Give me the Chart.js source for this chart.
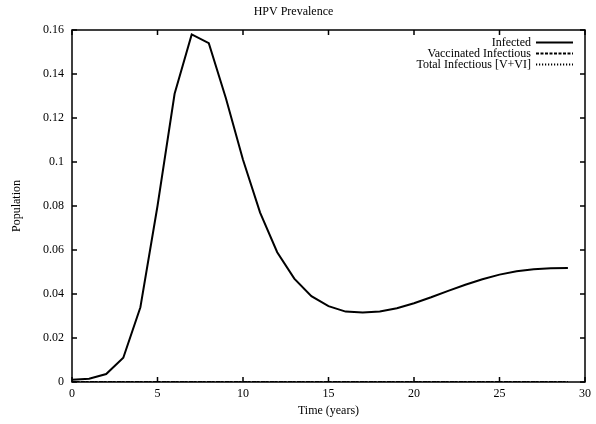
<!DOCTYPE html>
<html>
<head>
<meta charset="utf-8">
<script src="https://cdn.jsdelivr.net/npm/chart.js@4"></script>
<style>
  html, body { margin: 0; padding: 0; background: #fff; }
  #wrap { width: 596px; height: 424px; }
</style>
</head>
<body>
<div id="wrap"><canvas id="hpvChart" width="596" height="424"></canvas></div>
<script>
// time in years
const years = [0,1,2,3,4,5,6,7,8,9,10,11,12,13,14,15,16,17,18,19,20,21,22,23,24,25,26,27,28,29];
const infected = [0.001,0.0015,0.0036,0.011,0.034,0.080,0.131,0.158,0.154,0.129,0.101,0.077,0.059,0.047,0.039,0.0345,0.032,0.0316,0.032,0.0335,0.0358,0.0385,0.0414,0.0442,0.0467,0.0488,0.0503,0.0513,0.0517,0.0518];
const vaccinatedInfectious = years.map(() => 0);
const totalInfectious = years.map(() => 0);
const xTicks = [0, 5, 10, 15, 20, 25, 30];
const yTicks = [0, 0.02, 0.04, 0.06, 0.08, 0.1, 0.12, 0.14, 0.16];

const FONT = '"Liberation Serif", "DejaVu Serif", serif';

function toPoints(ys) {
    return years.map((x, i) => ({x: x, y: ys[i]}));
}

const seriesInfo = [
    {label: 'Infected', data: infected, dash: []},
    {label: 'Vaccinated Infectious', data: vaccinatedInfectious, dash: [3, 1.5]},
    {label: 'Total Infectious [V+VI]', data: totalInfectious, dash: [1.2, 1.8]}
];

// gnuplot style frame, inward ticks on all sides and key at top right
const framePlugin = {
    id: 'frame',
    afterDatasetsDraw(chart) {
        const ctx = chart.ctx;
        const a = chart.chartArea;
        const xs = chart.scales.x, ys = chart.scales.y;
        ctx.save();
        ctx.strokeStyle = '#000';
        ctx.lineWidth = 1.5;
        ctx.setLineDash([]);
        ctx.beginPath();
        xTicks.forEach(v => {
            const px = xs.getPixelForValue(v);
            ctx.moveTo(px, a.bottom); ctx.lineTo(px, a.bottom - 5);
            ctx.moveTo(px, a.top); ctx.lineTo(px, a.top + 5);
        });
        yTicks.forEach(v => {
            const py = ys.getPixelForValue(v);
            ctx.moveTo(a.left, py); ctx.lineTo(a.left + 5, py);
            ctx.moveTo(a.right, py); ctx.lineTo(a.right - 5, py);
        });
        ctx.stroke();
        ctx.strokeRect(a.left, a.top, a.right - a.left, a.bottom - a.top);

        // key
        ctx.font = '12px ' + FONT;
        ctx.fillStyle = '#000';
        ctx.textAlign = 'right';
        ctx.textBaseline = 'middle';
        seriesInfo.forEach((s, i) => {
            const y = a.top + 12.5 + i * 11;
            ctx.fillText(s.label, a.right - 54, y);
            ctx.setLineDash(s.dash);
            ctx.lineWidth = 2;
            ctx.beginPath();
            ctx.moveTo(a.right - 49, y);
            ctx.lineTo(a.right - 12, y);
            ctx.stroke();
        });
        ctx.restore();
    }
};

const config = {
    type: 'line',
    data: {
        datasets: seriesInfo.map(s => ({
            label: s.label,
            data: toPoints(s.data),
            borderColor: '#000',
            borderWidth: 2,
            borderDash: s.dash,
            pointRadius: 0,
            tension: 0,
            fill: false
        }))
    },
    options: {
        responsive: false,
        animation: false,
        layout: {padding: {left: 0, right: 9, top: 0, bottom: 0}},
        plugins: {
            legend: {display: false},
            tooltip: {enabled: false},
            title: {
                display: true,
                text: 'HPV Prevalence',
                color: '#000',
                font: {family: FONT, size: 12, weight: 'normal'},
                padding: {top: 5, bottom: 10.6}
            }
        },
        scales: {
            x: {
                type: 'linear',
                min: 0,
                max: 30,
                afterBuildTicks: s => { s.ticks = xTicks.map(v => ({value: v})); },
                afterFit: s => { s.height = 42; },
                grid: {display: false, drawTicks: false},
                border: {display: false},
                ticks: {
                    color: '#000',
                    font: {family: FONT, size: 12},
                    padding: 5,
                    maxRotation: 0,
                    callback: v => String(v)
                },
                title: {
                    display: true,
                    text: 'Time (years)',
                    color: '#000',
                    font: {family: FONT, size: 12},
                    padding: {top: 0, bottom: 6}
                }
            },
            y: {
                min: 0,
                max: 0.16,
                afterBuildTicks: s => { s.ticks = yTicks.map(v => ({value: v})); },
                afterFit: s => { s.width = 72; },
                grid: {display: false, drawTicks: false},
                border: {display: false},
                ticks: {
                    color: '#000',
                    font: {family: FONT, size: 12},
                    padding: 8,
                    callback: v => String(+Number(v).toFixed(4))
                },
                title: {
                    display: true,
                    text: 'Population',
                    color: '#000',
                    font: {family: FONT, size: 12},
                    padding: {top: 10, bottom: 0}
                }
            }
        }
    },
    plugins: [framePlugin]
};

const ctx = document.getElementById('hpvChart').getContext('2d');
const hpvChart = new Chart(ctx, config);
</script>
</body>
</html>
